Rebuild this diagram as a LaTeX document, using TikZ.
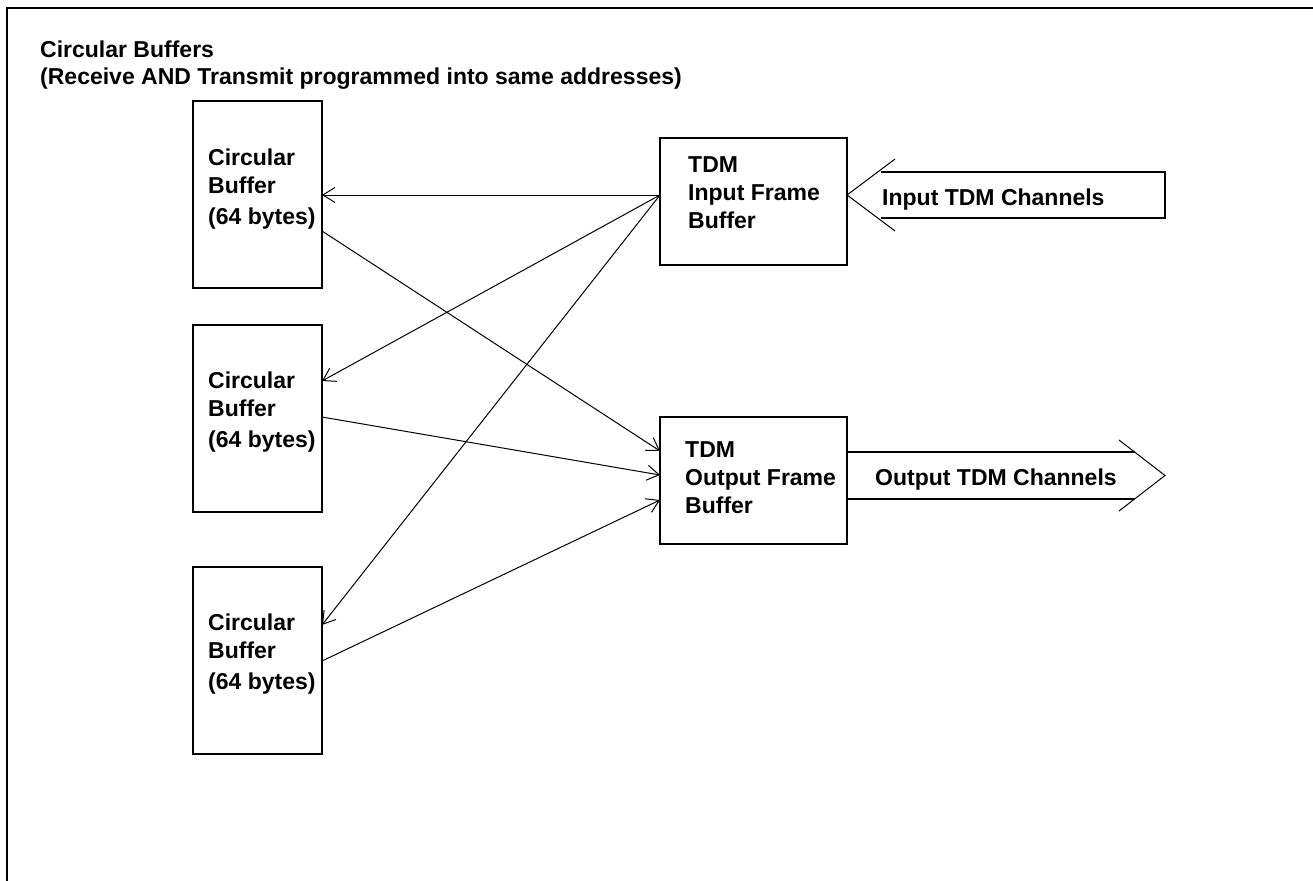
\documentclass[tikz,border=0pt]{standalone}
\usepackage{fontspec}
\setmainfont{Liberation Sans}
\usetikzlibrary{arrows.meta,calc}
\begin{document}
\begin{tikzpicture}[x=1pt,y=-1pt,
  box/.style={draw,line width=2pt,minimum width=129pt,minimum height=187pt,inner sep=0pt,outer sep=0pt},
  fbox/.style={draw,line width=2pt,minimum width=187pt,minimum height=127pt,inner sep=0pt,outer sep=0pt},
  lbl/.style={anchor=north west,inner sep=0pt,align=left,font=\fontsize{23}{28}\selectfont\bfseries},
  ttl/.style={anchor=north west,inner sep=0pt,align=left,font=\fontsize{23}{27}\selectfont\bfseries},
  chlbl/.style={anchor=base west,inner sep=0pt,font=\fontsize{23}{28}\selectfont\bfseries},
  conn/.style={line width=1pt,-{Straight Barb[length=12pt,width=15pt,line width=1pt]}},
  body/.style={line width=2pt},
  chev/.style={line width=1pt}]
\useasboundingbox (0,0) rectangle (1313,880);
% frame
\draw[line width=2pt] (7,890) -- (7,8) -- (1320,8);
% title
\node[ttl] (title) at (40,41) {Circular Buffers\\(Receive AND Transmit programmed into same addresses)};
% buffers
\node[box] (cb1) at (257.5,194.5) {};
\node[box] (cb2) at (257.5,418) {};
\node[box] (cb3) at (257.5,660) {};
\node[lbl] (t1) at (208,148.5) {Circular\\Buffer\\[3pt](64 bytes)};
\node[lbl] (t2) at (208,372) {Circular\\Buffer\\[3pt](64 bytes)};
\node[lbl] (t3) at (208,614) {Circular\\Buffer\\[3pt](64 bytes)};
% frame buffers
\node[fbox] (inbuf) at (753.5,201.5) {};
\node[fbox] (outbuf) at (753.5,480.5) {};
\node[lbl] (ti) at (688,156) {TDM\\Input Frame\\Buffer};
\node[lbl] (to) at (685,441) {TDM\\Output Frame\\Buffer};
% connectors
\draw[conn] ([yshift=6.5pt]inbuf.west) -- ([yshift=-0.5pt]cb1.east);
\draw[conn] ([yshift=6.5pt]inbuf.west) -- ([yshift=37pt]cb2.east);
\draw[conn] ([yshift=6.5pt]inbuf.west) -- ([yshift=35pt]cb3.east);
\draw[conn] ([yshift=-36.5pt]cb1.east) -- ([yshift=29.5pt]outbuf.west);
\draw[conn] ([yshift=1pt]cb2.east) -- ([yshift=5.5pt]outbuf.west);
\draw[conn] ([yshift=-1pt]cb3.east) -- ([yshift=-19.5pt]outbuf.west);
% input channel arrow
\coordinate (itip) at ([yshift=6.5pt]inbuf.east);
\coordinate (ia1) at (895,159);
\coordinate (ia2) at (895,231);
\coordinate (ib1) at (881,172);
\coordinate (ib2) at (881,218);
\draw[chev] (ia1) -- (itip) -- (ia2);
\draw[body] (ib1) -- (1165,172) -- (1165,218) -- (ib2);
\node[chlbl] (inlbl) at (882,205) {Input TDM Channels};
% output channel arrow
\coordinate (otip) at (1165,475.5);
\coordinate (oa1) at (1119,440);
\coordinate (oa2) at (1119,511);
\coordinate (ob1) at (1135,452);
\coordinate (ob2) at (1135,499);
\draw[chev] (oa1) -- (otip) -- (oa2);
\draw[body] ([yshift=28.5pt]outbuf.east) -- (ob1);
\draw[body] ([yshift=-18.5pt]outbuf.east) -- (ob2);
\node[chlbl] (outlbl) at (875,485) {Output TDM Channels};
\end{tikzpicture}
\end{document}
